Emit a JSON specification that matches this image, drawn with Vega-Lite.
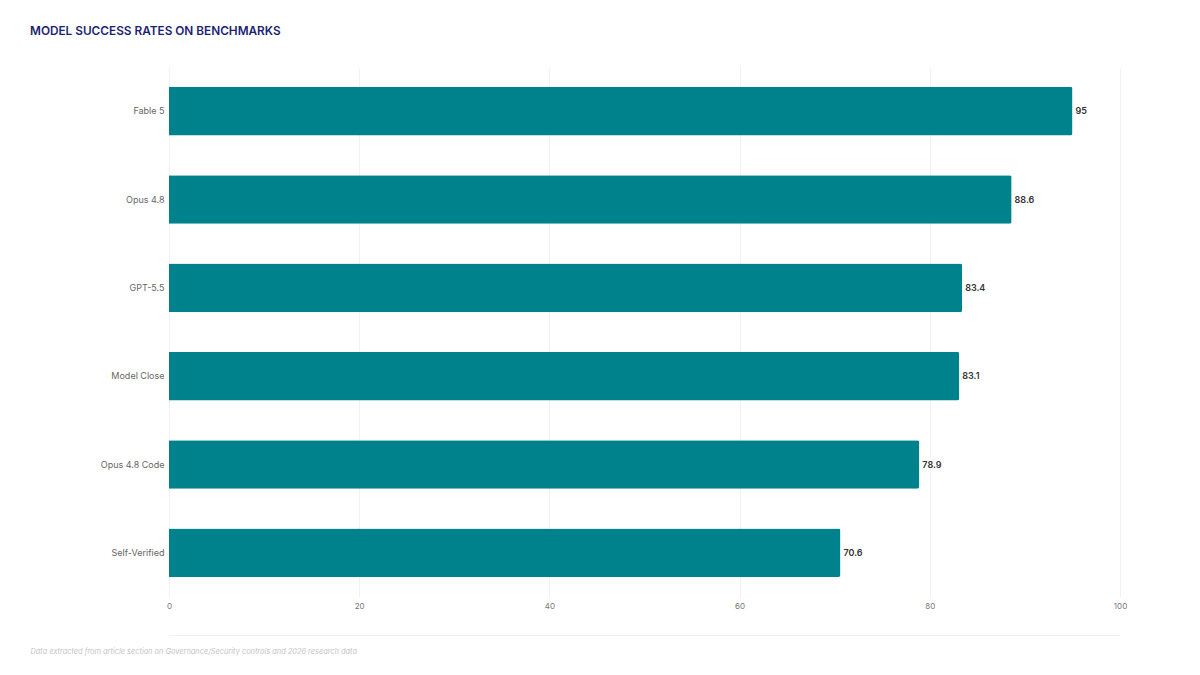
{
  "$schema": "https://vega.github.io/schema/vega-lite/v6.json",
  "width": 951,
  "height": 530,
  "autosize": {"type": "none"},
  "padding": {"left": 169, "top": 67, "right": 80, "bottom": 78},
  "background": "#ffffff",
  "title": {
    "text": "MODEL SUCCESS RATES ON BENCHMARKS",
    "anchor": "start",
    "frame": "group",
    "dx": -139,
    "offset": 29,
    "font": "Inter",
    "fontSize": 11.8,
    "fontWeight": 600,
    "color": "#1c1f73"
  },
  "data": {
    "values": [
      {"model": "Fable 5", "rate": 95},
      {"model": "Opus 4.8", "rate": 88.6},
      {"model": "GPT-5.5", "rate": 83.4},
      {"model": "Model Close", "rate": 83.1},
      {"model": "Opus 4.8 Code", "rate": 78.9},
      {"model": "Self-Verified", "rate": 70.6}
    ]
  },
  "encoding": {
    "y": {
      "field": "model",
      "type": "nominal",
      "sort": null,
      "title": null,
      "scale": {"paddingInner": 0.45, "paddingOuter": 0.225},
      "axis": {
        "domain": false,
        "ticks": false,
        "grid": false,
        "labelPadding": 5,
        "labelFontSize": 9,
        "labelColor": "#666666",
        "labelFont": "Inter"
      }
    },
    "x": {
      "field": "rate",
      "type": "quantitative",
      "scale": {"domain": [0, 100]},
      "title": "Data extracted from article section on Governance/Security controls and 2026 research data",
      "axis": {
        "values": [0, 20, 40, 60, 80, 100],
        "offset": 38,
        "domainColor": "#f0f0f0",
        "ticks": false,
        "gridColor": "#f2f2f2",
        "labelFlush": false,
        "labelPadding": -29,
        "labelBaseline": "middle",
        "labelFontSize": 8,
        "labelColor": "#777777",
        "labelFont": "Inter",
        "titleAnchor": "start",
        "titleAlign": "left",
        "titleBaseline": "middle",
        "titleX": -139,
        "titleY": 16,
        "titleFont": "Inter",
        "titleFontSize": 7.4,
        "titleFontStyle": "italic",
        "titleFontWeight": 400,
        "titleColor": "#c4c4c4"
      }
    }
  },
  "layer": [
    {
      "mark": {"type": "bar", "color": "#00828c", "cornerRadiusEnd": 2}
    },
    {
      "mark": {
        "type": "text",
        "align": "left",
        "baseline": "middle",
        "dx": 3,
        "font": "Inter",
        "fontSize": 9,
        "fontWeight": 600,
        "color": "#333333"
      },
      "encoding": {"text": {"field": "rate", "type": "quantitative"}}
    }
  ],
  "config": {"view": {"stroke": null}}
}
